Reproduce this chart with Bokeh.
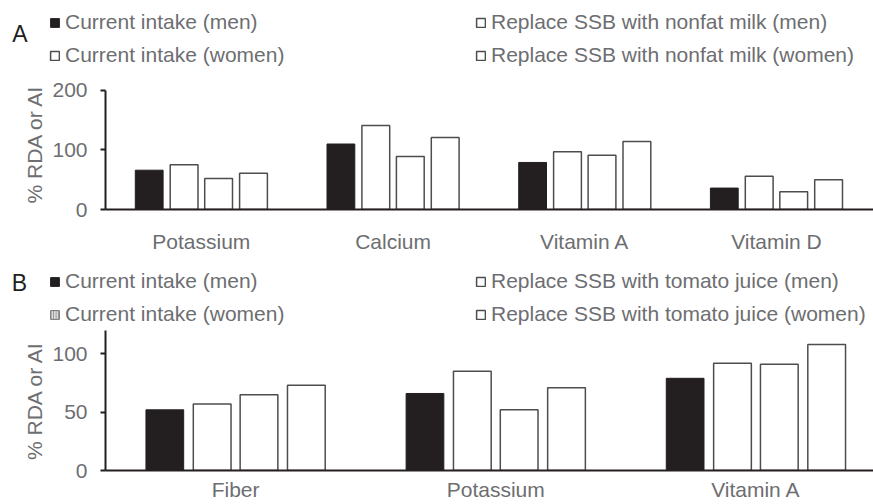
from bokeh.plotting import figure
from bokeh.models import (Range1d, FixedTicker, Legend, LegendItem, Label, ColumnDataSource,
                          BoxAnnotation)
from bokeh.layouts import column
from bokeh.embed import file_html
from bokeh.resources import INLINE

# ---------------- data ----------------
a_categories = ["Potassium", "Calcium", "Vitamin A", "Vitamin D"]
a_current_men = [66, 110, 79, 36]
a_milk_men = [75, 141, 97, 56]
a_current_women = [52, 89, 91, 30]
a_milk_women = [61, 121, 114, 50]
a_labels = ["Current intake (men)", "Replace SSB with nonfat milk (men)",
            "Current intake (women)", "Replace SSB with nonfat milk (women)"]
a_yticks = [0, 100, 200]

b_categories = ["Fiber", "Potassium", "Vitamin A"]
b_current_men = [52, 66, 79]
b_tomato_men = [57, 85, 92]
b_current_women = [65, 52, 91]
b_tomato_women = [73, 71, 108]
b_labels = ["Current intake (men)", "Replace SSB with tomato juice (men)",
            "Current intake (women)", "Replace SSB with tomato juice (women)"]
b_yticks = [0, 50, 100]

FONT = "Liberation Sans"
GRAY = "#6d6e71"
DARK = "#231f20"
OFFSETS = [-0.272, -0.09, 0.09, 0.272]
BAR_W = 0.145
W = 873


def bar_style(k, hatch=False):
    if k == 0:
        return dict(fill_color=DARK, line_color=DARK, line_width=1)
    if hatch:
        return dict(fill_color="#dcdcdc", line_color="#777777", line_width=1,
                    hatch_pattern="vertical_line", hatch_color="#8a8a8a",
                    hatch_scale=2.5, hatch_weight=1)
    return dict(fill_color="white", line_color="#4d4d4d", line_width=1.5)


def legend_fig(h, labels, tag, tag_xy, left_xy, right_xy, hatch_women=False):
    p = figure(width=W, height=h, output_backend="svg", toolbar_location=None,
               x_range=Range1d(0, W), y_range=Range1d(0, h),
               x_axis_location=None, y_axis_location=None, frame_align=False,
               min_border_left=0, min_border_right=0, min_border_top=0, min_border_bottom=0)
    p.outline_line_color = None
    p.xgrid.visible = False
    p.ygrid.visible = False
    rs = []
    for k in range(4):
        # legend-only renderers: a degenerate bar in an empty spot, masked below
        src = ColumnDataSource(dict(x=[420], top=[h / 2], bottom=[h / 2]))
        rs.append(p.vbar(x="x", top="top", bottom="bottom", width=0.01, source=src,
                         **bar_style(k, hatch=(hatch_women and k == 2))))
    p.add_layout(BoxAnnotation(left=405, right=435, bottom=h / 2 - 10, top=h / 2 + 10,
                               fill_color="white", fill_alpha=1, line_color=None))

    def legend(items, loc):
        lg = Legend(items=items, location=loc, orientation="vertical",
                    glyph_width=11, glyph_height=11, label_standoff=5,
                    padding=0, margin=0, spacing=9,
                    border_line_color=None, background_fill_alpha=0,
                    label_text_font=FONT, label_text_font_size="21px",
                    label_text_color=GRAY)
        p.add_layout(lg)

    legend([LegendItem(label=labels[0], renderers=[rs[0]]),
            LegendItem(label=labels[2], renderers=[rs[2]])], left_xy)
    legend([LegendItem(label=labels[1], renderers=[rs[1]]),
            LegendItem(label=labels[3], renderers=[rs[3]])], right_xy)
    p.add_layout(Label(x=tag_xy[0], y=h - tag_xy[1], text=tag, text_align="center",
                       text_baseline="middle", text_font=FONT, text_font_size="23px",
                       text_color=DARK))
    return p


def chart_fig(cats, series, yticks, ybound, fig_h, border_left, border_bottom,
              x_end, y_end, x_standoff):
    p = figure(width=W, height=fig_h, output_backend="svg", toolbar_location=None,
               x_range=Range1d(0, x_end), y_range=Range1d(0, y_end),
               min_border_left=border_left, min_border_right=0, min_border_top=0,
               min_border_bottom=border_bottom)
    p.outline_line_color = None
    p.xgrid.visible = False
    p.ygrid.visible = False

    for k, vals in enumerate(series):
        src = ColumnDataSource(dict(x=[i + 0.5 + OFFSETS[k] for i in range(len(cats))], top=vals))
        p.vbar(x="x", top="top", width=BAR_W, source=src, **bar_style(k))

    xa = p.xaxis[0]
    xa.ticker = FixedTicker(ticks=[i + 0.5 for i in range(len(cats))])
    xa.major_label_overrides = {i + 0.5: c for i, c in enumerate(cats)}
    xa.axis_line_color = DARK
    xa.axis_line_width = 2
    xa.major_tick_line_color = None
    xa.minor_tick_line_color = None
    xa.major_label_standoff = x_standoff
    xa.major_label_text_font = FONT
    xa.major_label_text_font_size = "21px"
    xa.major_label_text_color = GRAY

    ya = p.yaxis[0]
    ya.ticker = FixedTicker(ticks=yticks)
    ya.bounds = ybound
    ya.axis_line_color = DARK
    ya.axis_line_width = 2
    ya.major_tick_line_color = DARK
    ya.major_tick_line_width = 2
    ya.major_tick_out = 5
    ya.major_tick_in = 0
    ya.minor_tick_line_color = None
    ya.major_label_standoff = 13
    ya.major_label_text_font = FONT
    ya.major_label_text_font_size = "21px"
    ya.major_label_text_color = GRAY
    ya.axis_label = "% RDA or AI"
    ya.axis_label_standoff = 3
    ya.axis_label_text_font = FONT
    ya.axis_label_text_font_size = "21px"
    ya.axis_label_text_font_style = "normal"
    ya.axis_label_text_color = GRAY
    return p


# Panel A: legend strip 0-78, chart 78-255 (baseline 211, 0.6 px/unit, 191.7 px/category)
la = legend_fig(78, a_labels, "A", (19.5, 33.5), (49, 78 - 67), (475, 78 - 67))
ca = chart_fig(a_categories, [a_current_men, a_milk_men, a_current_women, a_milk_women],
               a_yticks, (0, 200), 177, 105, 45, (W - 105) / 191.7, 132 / 0.6, 14)

# Panel B: legend strip 255-330, chart 330-504 (baseline 470, 1.167 px/unit, 260.5 px/category)
lb = legend_fig(75, b_labels, "B", (19, 27.5), (49, 75 - 71), (475, 75 - 71), hatch_women=True)
cb = chart_fig(b_categories, [b_current_men, b_tomato_men, b_current_women, b_tomato_women],
               b_yticks, (0, 120), 174, 104, 34, (W - 104) / 260.5, 140 / 1.167, 1)

layout = column(la, ca, lb, cb, spacing=0)
open("out.html", "w").write(file_html(layout, INLINE))
